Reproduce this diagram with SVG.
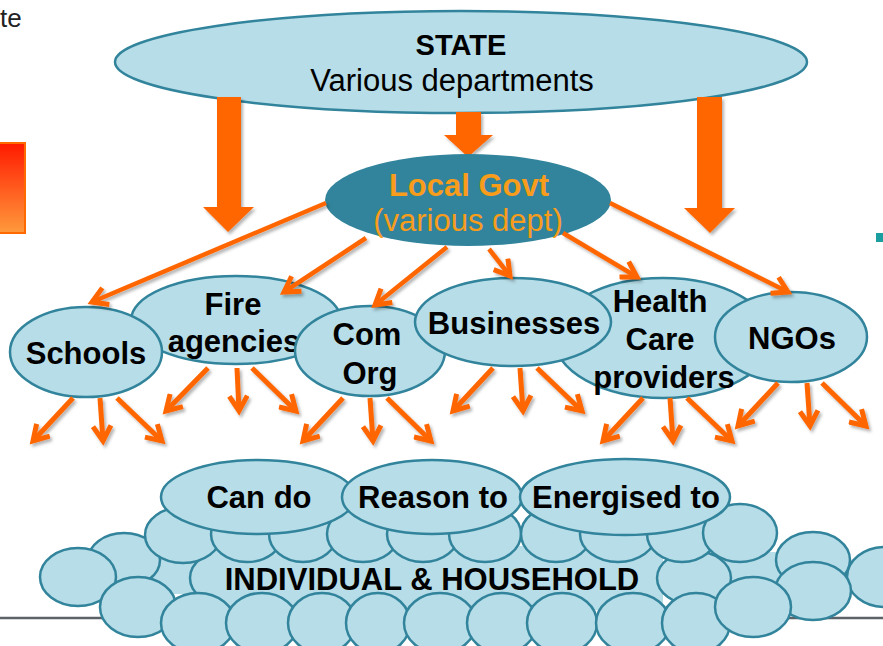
<svg xmlns="http://www.w3.org/2000/svg" width="883" height="646" viewBox="0 0 883 646">
<defs>
<style>
.nd{fill:#b7dde8;stroke:#31849b;stroke-width:2.5}
.cl{fill:#b7dde8;stroke:#31849b;stroke-width:2.5}
.fl{fill:#b7dde8;stroke:none}
.t{font-family:"Liberation Sans",Arial,sans-serif;font-size:31px;font-weight:bold;fill:#000;text-anchor:middle}
.r{font-weight:normal}
.og{fill:#f89c1c}
.big{fill:#ff6600}
.ln{stroke:#ff6600;stroke-width:4.5;fill:none;marker-end:url(#ah)}
</style>
<marker id="ah" markerUnits="userSpaceOnUse" viewBox="0 0 22 22" markerWidth="22" markerHeight="22" refX="17" refY="11" orient="auto">
<path d="M2,2 L17,11 L2,20" fill="none" stroke="#ff6600" stroke-width="5"/>
</marker>
<filter id="sh" x="-20%" y="-20%" width="140%" height="140%">
<feDropShadow dx="2" dy="2.5" stdDeviation="1.5" flood-color="#000" flood-opacity="0.3"/>
</filter>
<linearGradient id="gr" x1="0" y1="0" x2="0" y2="1">
<stop offset="0" stop-color="#ff1a00"/>
<stop offset="1" stop-color="#ff9a3c"/>
</linearGradient>
</defs>
<rect width="883" height="646" fill="#fff"/>
<g id="fragments">
<text x="0" y="27" style="font-family:'Liberation Sans',Arial,sans-serif;font-size:26px;fill:#222">te</text>
<rect x="-4" y="143" width="29" height="90" fill="url(#gr)" stroke="#ff6a00" stroke-width="2"/>
<rect x="876" y="233" width="7" height="9" fill="#1a9ea0"/>
</g>
<line id="baseline" x1="0" y1="618" x2="883" y2="618" stroke="#5b6268" stroke-width="2.5"/>
<g id="state">
<ellipse class="nd" cx="461" cy="62" rx="346" ry="51"/>
<text class="t" x="461" y="55" style="font-size:29px">STATE</text>
<text class="t r" x="452" y="91">Various departments</text>
</g>
<g id="state-arrows" class="big" filter="url(#sh)">
<polygon points="217,97 241,97 241,207 254,207 228,232 203,207 217,207"/>
<polygon points="456,112 481,112 481,135 493,135 468,157 444,135 456,135"/>
<polygon points="697,97 722,97 722,208 735,208 710,233 684,208 697,208"/>
</g>
<g id="localgovt">
<ellipse cx="468" cy="200" rx="143" ry="46" fill="#31849b"/>
<text class="t og" x="469" y="196">Local Govt</text>
<text class="t r og" x="468" y="231">(various dept)</text>
</g>
<g id="fire">
<ellipse class="nd" cx="236" cy="320" rx="105" ry="44"/>
<text class="t" x="233" y="315">Fire</text>
<text class="t" x="234" y="352">agencies</text>
</g>
<g id="schools">
<ellipse class="nd" cx="86" cy="352" rx="76" ry="45"/>
<text class="t" x="86" y="364">Schools</text>
</g>
<g id="health">
<ellipse class="nd" cx="663" cy="338" rx="109" ry="60"/>
<text class="t" x="660" y="312">Health</text>
<text class="t" x="660" y="350">Care</text>
<text class="t" x="664" y="388">providers</text>
</g>
<g id="comorg">
<ellipse class="nd" cx="370" cy="351" rx="75" ry="45"/>
<text class="t" x="367" y="345">Com</text>
<text class="t" x="370" y="384">Org</text>
</g>
<g id="businesses">
<ellipse class="nd" cx="513" cy="322" rx="98" ry="44"/>
<text class="t" x="514" y="334">Businesses</text>
</g>
<g id="ngos">
<ellipse class="nd" cx="791" cy="337" rx="76" ry="45"/>
<text class="t" x="792" y="349">NGOs</text>
</g>
<g id="individual">
<rect class="fl" x="150" y="558" width="50" height="36"/>
<rect class="fl" x="722" y="552" width="62" height="40"/>
<ellipse class="cl" cx="885" cy="577" rx="38" ry="30"/>
<ellipse class="cl" cx="124" cy="560" rx="36" ry="27"/>
<ellipse class="cl" cx="78" cy="577" rx="38" ry="29"/>
<ellipse class="cl" cx="138" cy="607" rx="38" ry="30"/>
<ellipse class="cl" cx="228" cy="578" rx="38" ry="28"/>
<rect class="fl" x="205" y="546" width="458" height="64"/>
<ellipse class="cl" cx="694" cy="578" rx="37" ry="27"/>
<ellipse class="cl" cx="813" cy="560" rx="37" ry="28"/>
<ellipse class="cl" cx="813" cy="591" rx="38" ry="29"/>
<ellipse class="cl" cx="183" cy="535" rx="38" ry="28"/>
<ellipse class="cl" cx="247" cy="534" rx="36" ry="28"/>
<ellipse class="cl" cx="303" cy="534" rx="34" ry="28"/>
<ellipse class="cl" cx="363" cy="534" rx="36" ry="28"/>
<ellipse class="cl" cx="423" cy="534" rx="36" ry="28"/>
<ellipse class="cl" cx="485" cy="534" rx="36" ry="28"/>
<ellipse class="cl" cx="556" cy="534" rx="35" ry="28"/>
<ellipse class="cl" cx="618" cy="534" rx="38" ry="28"/>
<ellipse class="cl" cx="682" cy="534" rx="35" ry="28"/>
<ellipse class="cl" cx="740" cy="533" rx="37" ry="29"/>
<ellipse class="cl" cx="198" cy="623" rx="37" ry="30"/>
<ellipse class="cl" cx="262" cy="623" rx="36" ry="30"/>
<ellipse class="cl" cx="322" cy="623" rx="34" ry="30"/>
<ellipse class="cl" cx="378" cy="623" rx="32" ry="30"/>
<ellipse class="cl" cx="440" cy="623" rx="36" ry="30"/>
<ellipse class="cl" cx="502" cy="623" rx="35" ry="30"/>
<ellipse class="cl" cx="562" cy="623" rx="35" ry="30"/>
<ellipse class="cl" cx="633" cy="623" rx="37" ry="30"/>
<ellipse class="cl" cx="696" cy="623" rx="34" ry="30"/>
<ellipse class="cl" cx="753" cy="607" rx="38" ry="30"/>
<text class="t" x="432" y="590">INDIVIDUAL &amp; HOUSEHOLD</text>
</g>
<g id="cando">
<ellipse class="nd" cx="258" cy="497" rx="97" ry="37"/>
<text class="t" x="259" y="508">Can do</text>
</g>
<g id="reason">
<ellipse class="nd" cx="432" cy="497" rx="90" ry="37"/>
<text class="t" x="433" y="508">Reason to</text>
</g>
<g id="energised">
<ellipse class="nd" cx="625" cy="497" rx="105" ry="38"/>
<text class="t" x="626" y="508">Energised to</text>
</g>
<g id="connectors" filter="url(#sh)">
<g class="ln">
<line x1="326" y1="203" x2="92" y2="302"/>
<line x1="366" y1="238" x2="284" y2="292"/>
<line x1="447" y1="247" x2="375" y2="305"/>
<line x1="489" y1="249" x2="510" y2="276"/>
<line x1="563" y1="233" x2="637" y2="277"/>
<line x1="610" y1="203" x2="788" y2="292"/>
</g>
<g class="ln" style="stroke-width:5">
<line x1="73" y1="398" x2="33" y2="441"/>
<line x1="100" y1="398" x2="103" y2="441"/>
<line x1="117" y1="398" x2="162" y2="441"/>
<line x1="208" y1="368" x2="166" y2="411"/>
<line x1="237" y1="368" x2="239" y2="411"/>
<line x1="252" y1="368" x2="296" y2="411"/>
<line x1="343" y1="398" x2="303" y2="441"/>
<line x1="370" y1="398" x2="373" y2="441"/>
<line x1="387" y1="398" x2="431" y2="441"/>
<line x1="493" y1="368" x2="453" y2="411"/>
<line x1="520" y1="368" x2="523" y2="411"/>
<line x1="537" y1="368" x2="582" y2="411"/>
<line x1="643" y1="398" x2="603" y2="441"/>
<line x1="670" y1="398" x2="673" y2="441"/>
<line x1="687" y1="398" x2="732" y2="441"/>
<line x1="778" y1="383" x2="738" y2="426"/>
<line x1="807" y1="383" x2="810" y2="426"/>
<line x1="822" y1="383" x2="866" y2="426"/>
</g>
</g>
</svg>
